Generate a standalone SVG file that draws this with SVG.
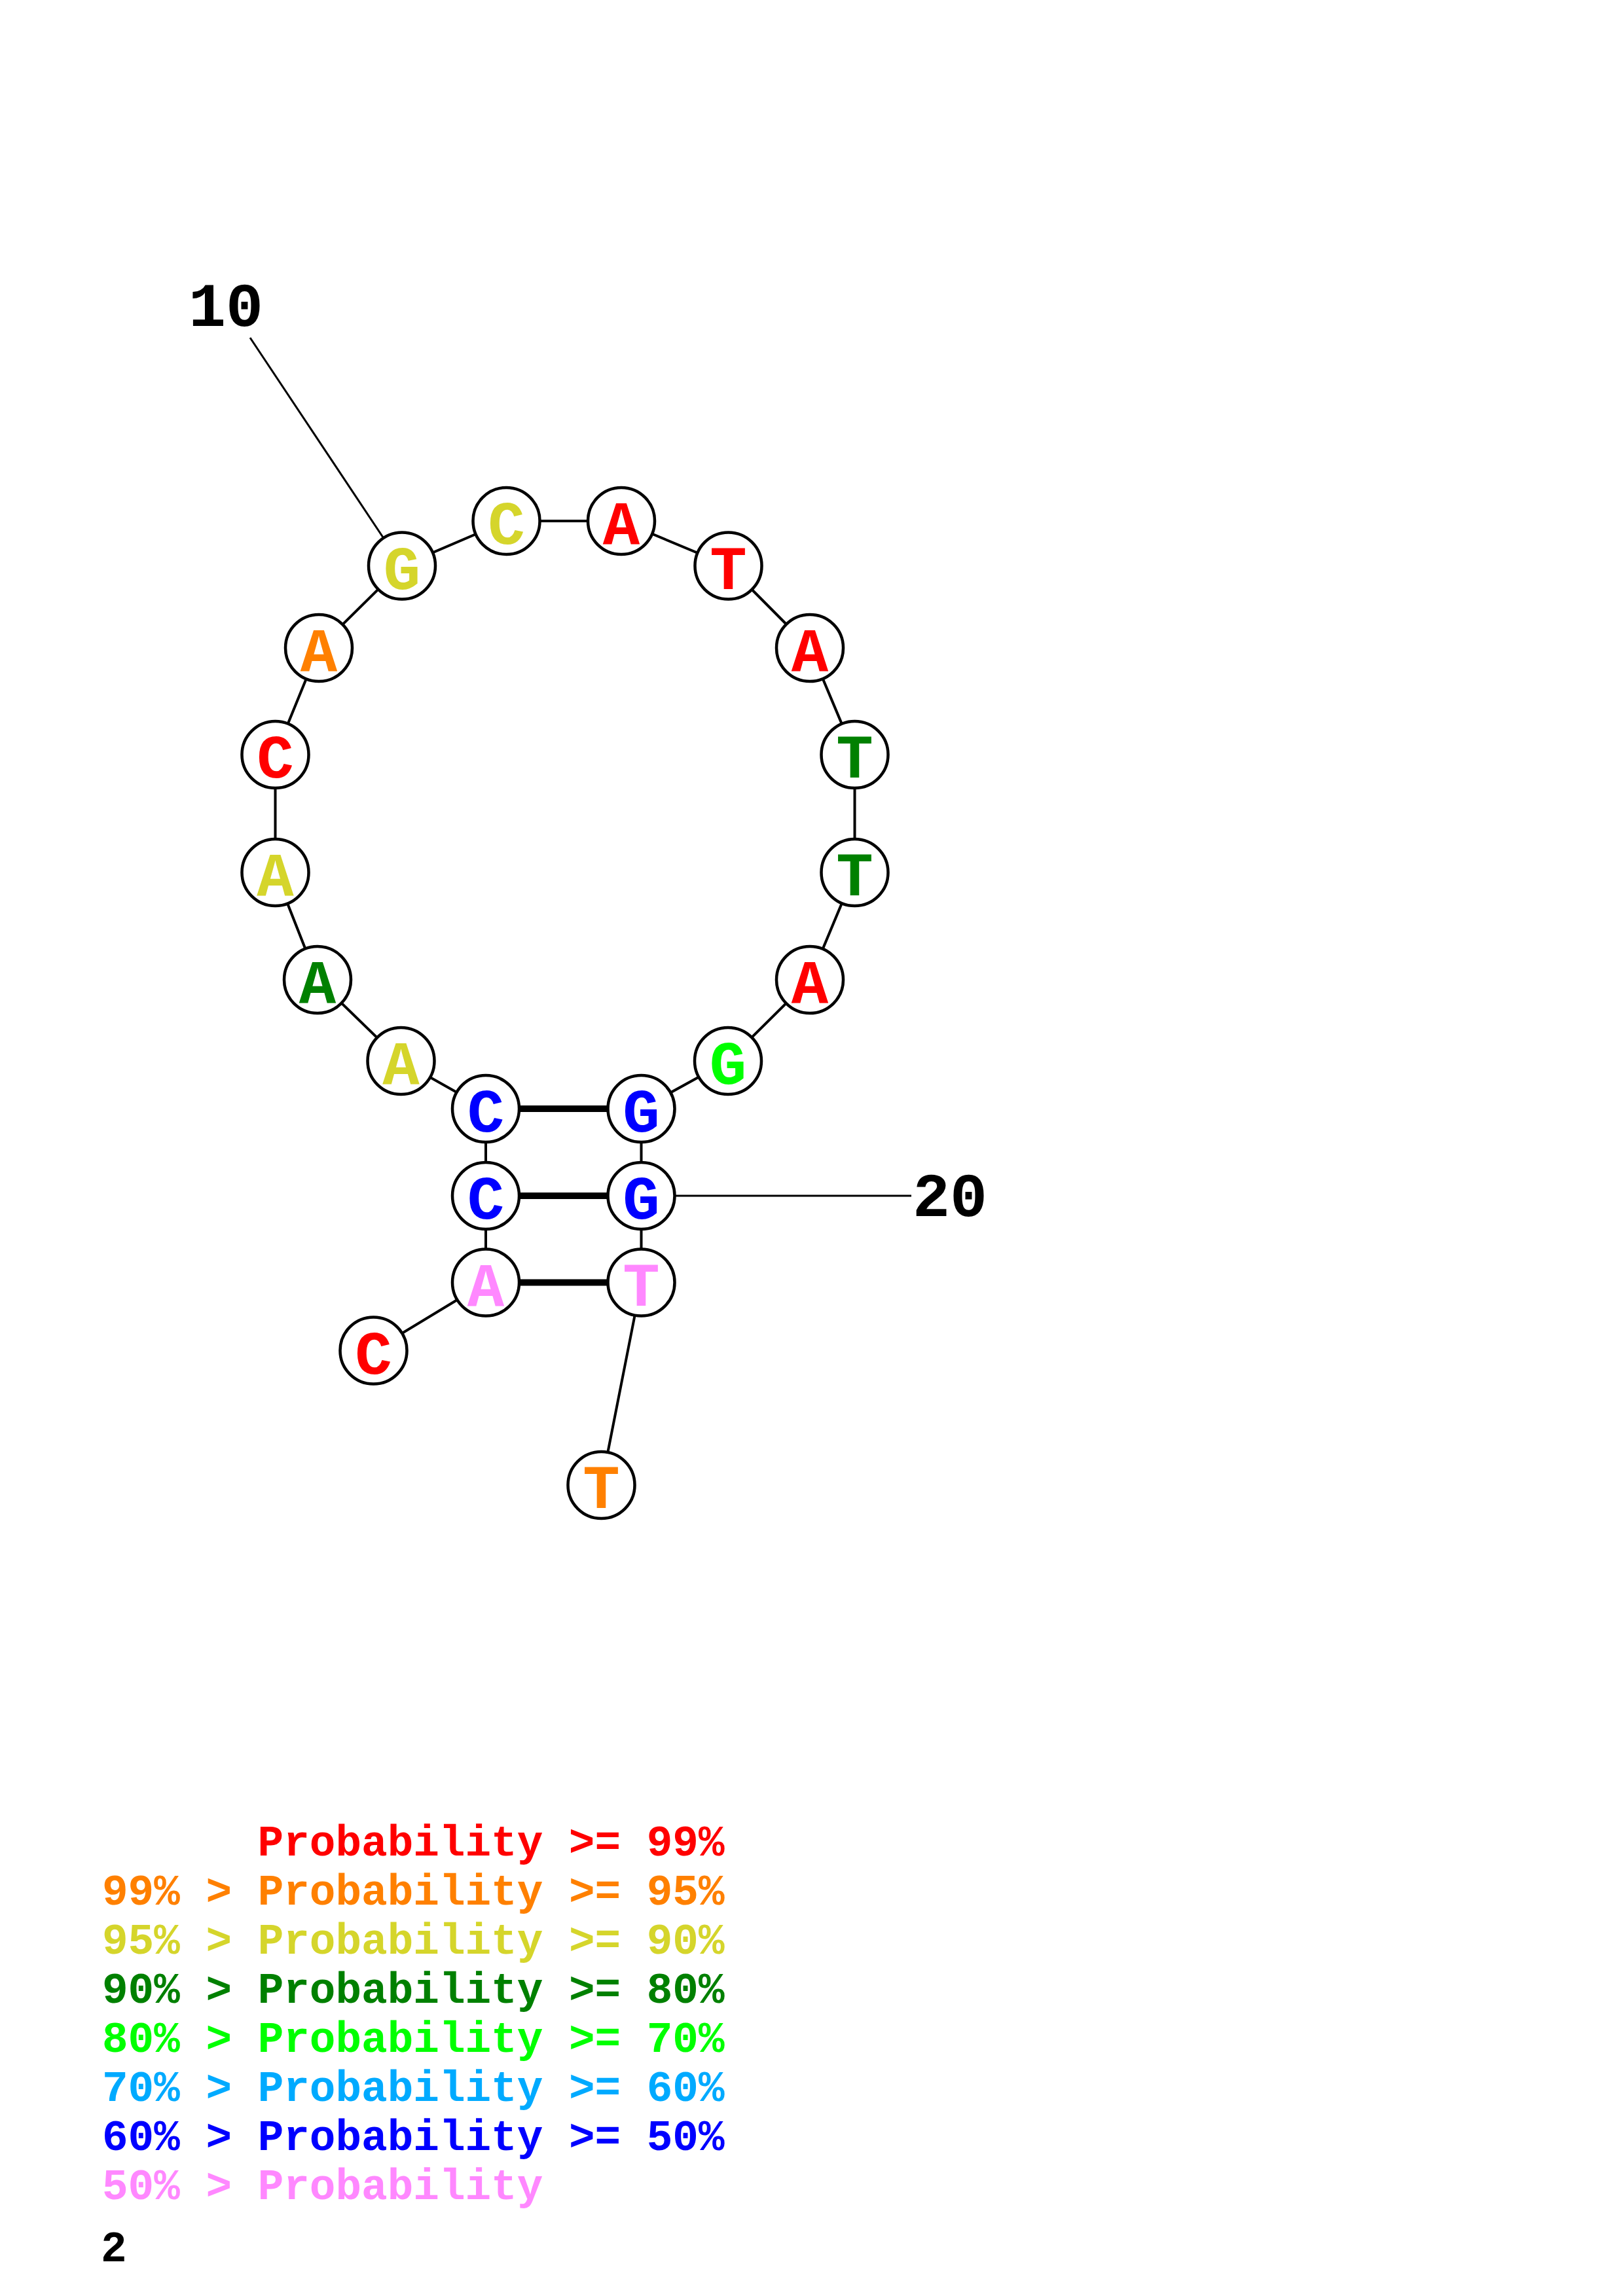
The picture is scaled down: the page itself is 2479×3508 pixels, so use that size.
<svg xmlns="http://www.w3.org/2000/svg" width="2479" height="3508" viewBox="0 0 2479 3508">
<style>
.bb{stroke:#000;stroke-width:4;fill:none}
.lb{stroke:#000;stroke-width:3;fill:none}
.bp{stroke:#000;stroke-width:10;fill:none}
.nd circle{fill:#fff;stroke:#000;stroke-width:4.5}
.nd text{font-family:"Liberation Mono",monospace;font-weight:bold;font-size:94px;text-anchor:middle}
.num{font-family:"Liberation Mono",monospace;font-weight:bold;font-size:95px;fill:#000}
.leg{font-family:"Liberation Mono",monospace;font-weight:bold;font-size:66px}
.r{fill:#FF0000}.o{fill:#FF8000}.y{fill:#D5D52B}.g{fill:#008000}.l{fill:#00FF00}.s{fill:#00AAFF}.b{fill:#0000FF}.p{fill:#FF88FF}
</style>
<rect width="2479" height="3508" fill="#fff"/>
<g id="connectors">
<polyline class="bb" points="570.5,2063.5 742,1959.5 742,1827 742,1694 612.5,1621 485,1497 420.5,1333 420.5,1153 487,990 614,864.5 773.5,796 949,796 1112.5,864.5 1237,990 1305.5,1153 1305.5,1333 1237,1497 1112,1621 979.5,1694 979.5,1827 979.5,1959.5 918.5,2269"/>
<line class="bp" x1="742" y1="1694" x2="979.5" y2="1694"/>
<line class="bp" x1="742" y1="1827" x2="979.5" y2="1827"/>
<line class="bp" x1="742" y1="1959.5" x2="979.5" y2="1959.5"/>
<line class="lb" x1="382" y1="516" x2="614" y2="864.5"/>
<line class="lb" x1="979.5" y1="1827" x2="1392" y2="1827"/>
</g>
<g id="n1" class="nd"><circle cx="570.5" cy="2063.5" r="51"/><text class="r" x="570.5" y="2098.5">C</text></g>
<g id="n2" class="nd"><circle cx="742" cy="1959.5" r="51"/><text class="p" x="742" y="1994.5">A</text></g>
<g id="n3" class="nd"><circle cx="742" cy="1827" r="51"/><text class="b" x="742" y="1862">C</text></g>
<g id="n4" class="nd"><circle cx="742" cy="1694" r="51"/><text class="b" x="742" y="1729">C</text></g>
<g id="n5" class="nd"><circle cx="612.5" cy="1621" r="51"/><text class="y" x="612.5" y="1656">A</text></g>
<g id="n6" class="nd"><circle cx="485" cy="1497" r="51"/><text class="g" x="485" y="1532">A</text></g>
<g id="n7" class="nd"><circle cx="420.5" cy="1333" r="51"/><text class="y" x="420.5" y="1368">A</text></g>
<g id="n8" class="nd"><circle cx="420.5" cy="1153" r="51"/><text class="r" x="420.5" y="1188">C</text></g>
<g id="n9" class="nd"><circle cx="487" cy="990" r="51"/><text class="o" x="487" y="1025">A</text></g>
<g id="n10" class="nd"><circle cx="614" cy="864.5" r="51"/><text class="y" x="614" y="899.5">G</text></g>
<g id="n11" class="nd"><circle cx="773.5" cy="796" r="51"/><text class="y" x="773.5" y="831">C</text></g>
<g id="n12" class="nd"><circle cx="949" cy="796" r="51"/><text class="r" x="949" y="831">A</text></g>
<g id="n13" class="nd"><circle cx="1112.5" cy="864.5" r="51"/><text class="r" x="1112.5" y="899.5">T</text></g>
<g id="n14" class="nd"><circle cx="1237" cy="990" r="51"/><text class="r" x="1237" y="1025">A</text></g>
<g id="n15" class="nd"><circle cx="1305.5" cy="1153" r="51"/><text class="g" x="1305.5" y="1188">T</text></g>
<g id="n16" class="nd"><circle cx="1305.5" cy="1333" r="51"/><text class="g" x="1305.5" y="1368">T</text></g>
<g id="n17" class="nd"><circle cx="1237" cy="1497" r="51"/><text class="r" x="1237" y="1532">A</text></g>
<g id="n18" class="nd"><circle cx="1112" cy="1621" r="51"/><text class="l" x="1112" y="1656">G</text></g>
<g id="n19" class="nd"><circle cx="979.5" cy="1694" r="51"/><text class="b" x="979.5" y="1729">G</text></g>
<g id="n20" class="nd"><circle cx="979.5" cy="1827" r="51"/><text class="b" x="979.5" y="1862">G</text></g>
<g id="n21" class="nd"><circle cx="979.5" cy="1959.5" r="51"/><text class="p" x="979.5" y="1994.5">T</text></g>
<g id="n22" class="nd"><circle cx="918.5" cy="2269" r="51"/><text class="o" x="918.5" y="2304">T</text></g>
<g id="labels">
<text class="num" x="288" y="498">10</text>
<text class="num" x="1394" y="1858">20</text>
</g>
<g id="legend">
<text class="leg r" x="393.6" y="2835">Probability &gt;= 99%</text>
<text class="leg o" x="156" y="2910">99% &gt; Probability &gt;= 95%</text>
<text class="leg y" x="156" y="2985">95% &gt; Probability &gt;= 90%</text>
<text class="leg g" x="156" y="3060">90% &gt; Probability &gt;= 80%</text>
<text class="leg l" x="156" y="3135">80% &gt; Probability &gt;= 70%</text>
<text class="leg s" x="156" y="3210">70% &gt; Probability &gt;= 60%</text>
<text class="leg b" x="156" y="3285">60% &gt; Probability &gt;= 50%</text>
<text class="leg p" x="156" y="3360">50% &gt; Probability</text>
<text class="leg" x="154" y="3455" fill="#000">2</text>
</g>
</svg>
